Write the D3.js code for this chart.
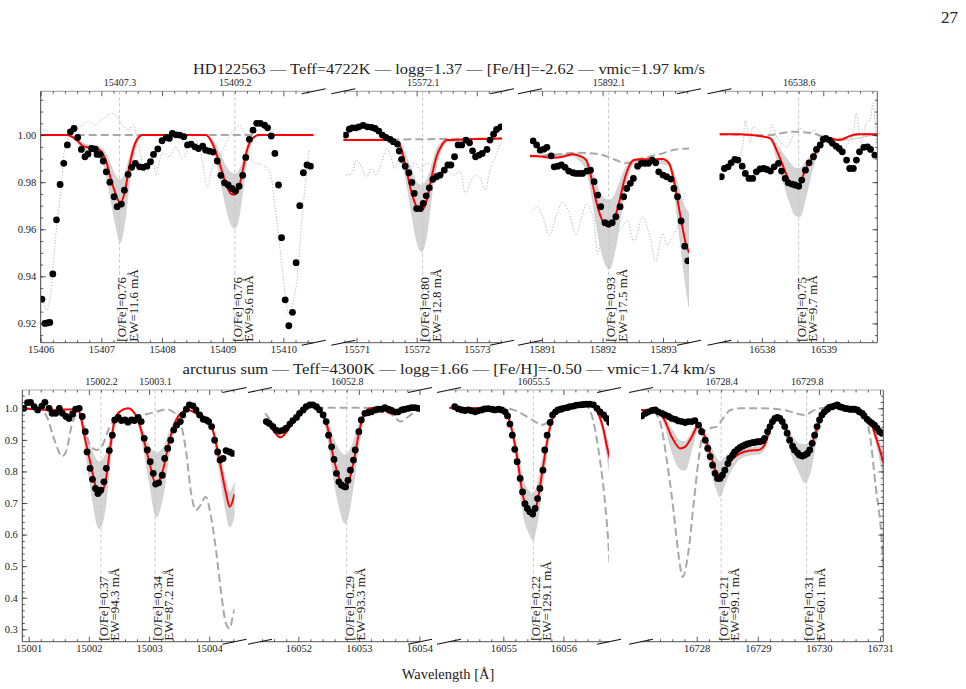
<!DOCTYPE html>
<html><head><meta charset="utf-8">
<script src="https://cdn.jsdelivr.net/npm/d3@7"></script>
<style>
body{margin:0;background:#fff}
svg{display:block}
text{font-family:"Liberation Serif","DejaVu Serif",serif;fill:#222}
</style>
</head><body>
<svg id="c" width="966" height="689"></svg>
<script>
// ===================== DATA =====================
// ---- Top panel: HD122563 ----
const T1_OBS=[[15406.02,0.9303],[15406.07,0.920],[15406.11,0.9202],[15406.15,0.9204],[15406.20,0.941],[15406.26,0.964],[15406.32,0.979],[15406.38,0.988],[15406.44,0.9958],[15406.49,1.0014],[15406.55,1.0028],[15406.61,0.999],[15406.67,0.9939],[15406.73,0.9908],[15406.78,0.992],[15406.84,0.9943],[15406.90,0.994],[15406.93,0.9918],[15406.98,0.9918],[15407.03,0.989],[15407.08,0.9844],[15407.14,0.980],[15407.21,0.9738],[15407.26,0.9696],[15407.33,0.9707],[15407.38,0.9766],[15407.44,0.9833],[15407.50,0.9863],[15407.56,0.988],[15407.63,0.9865],[15407.69,0.9863],[15407.75,0.9868],[15407.81,0.9887],[15407.86,0.9918],[15407.93,0.9941],[15408.0,0.9976],[15408.07,0.999],[15408.12,0.9986],[15408.17,1.0007],[15408.23,1.0001],[15408.29,1.0],[15408.36,0.9993],[15408.42,0.9958],[15408.48,0.9962],[15408.54,0.995],[15408.60,0.9943],[15408.67,0.9953],[15408.72,0.9936],[15408.78,0.9932],[15408.84,0.9928],[15408.91,0.989],[15408.97,0.9829],[15409.03,0.9797],[15409.09,0.9788],[15409.15,0.9773],[15409.21,0.9762],[15409.27,0.9783],[15409.33,0.9829],[15409.38,0.9905],[15409.44,0.9982],[15409.50,1.0021],[15409.56,1.005],[15409.62,1.005],[15409.69,1.0042],[15409.74,1.0031],[15409.80,0.9996],[15409.86,0.9922],[15409.92,0.9788],[15409.97,0.9564],[15410.03,0.930],[15410.09,0.919],[15410.15,0.9247],[15410.21,0.9458],[15410.27,0.970],[15410.33,0.984],[15410.39,0.9873],[15410.45,0.9868]];
const T1_RED=[[15406.00,1.0],[15406.43,1.0],[15406.59,0.998],[15406.70,0.9953],[15406.81,0.9946],[15406.92,0.9943],[15407.00,0.993],[15407.08,0.9887],[15407.16,0.981],[15407.25,0.974],[15407.31,0.971],[15407.38,0.9752],[15407.46,0.9865],[15407.52,0.9936],[15407.60,0.9986],[15407.68,1.0],[15408.72,1.0],[15408.83,0.9965],[15408.94,0.9887],[15409.05,0.9795],[15409.14,0.975],[15409.19,0.9748],[15409.24,0.9755],[15409.32,0.9837],[15409.40,0.9936],[15409.49,0.9986],[15409.60,1.0],[15410.5,1.0]];
const T1_BAND=[[15406.00,1.0,1.0],[15406.43,1.0,1.0],[15406.59,0.999,0.997],[15406.70,0.9965,0.994],[15406.81,0.9958,0.993],[15406.92,0.9955,0.9925],[15407.00,0.9945,0.990],[15407.08,0.992,0.983],[15407.16,0.987,0.972],[15407.25,0.982,0.960],[15407.31,0.981,0.9545],[15407.38,0.983,0.962],[15407.46,0.990,0.979],[15407.52,0.995,0.989],[15407.60,0.999,0.997],[15407.68,1.0,1.0],[15408.72,1.0,1.0],[15408.83,0.998,0.995],[15408.94,0.993,0.984],[15409.05,0.987,0.970],[15409.14,0.984,0.962],[15409.19,0.9835,0.9605],[15409.24,0.984,0.962],[15409.32,0.988,0.974],[15409.40,0.995,0.990],[15409.49,0.999,0.997],[15409.60,1.0,1.0],[15410.5,1.0,1.0]];
const T1_DASH=[[15406.0,1.0],[15410.5,1.0]];
const T1_DOT=[[15406.02,0.9313],[15406.10,0.9257],[15406.15,0.930],[15406.23,0.9526],[15406.34,0.978],[15406.43,0.9972],[15406.59,1.002],[15406.78,1.0057],[15406.89,1.0042],[15407.00,1.0064],[15407.19,1.0092],[15407.33,1.005],[15407.44,1.002],[15407.52,1.0042],[15407.60,0.9972],[15407.74,0.9837],[15407.85,0.9887],[15407.90,0.983],[15408.01,0.9922],[15408.12,0.9908],[15408.23,0.995],[15408.34,0.9901],[15408.50,0.9993],[15408.61,0.995],[15408.75,0.978],[15408.83,0.9865],[15408.94,0.9908],[15409.05,0.9965],[15409.16,1.0014],[15409.27,1.0042],[15409.38,0.9993],[15409.49,0.9887],[15409.65,0.9873],[15409.76,0.9851],[15409.87,0.968],[15409.98,0.944],[15410.09,0.9242],[15410.20,0.9342],[15410.31,0.9653],[15410.42,0.9936]];

const T2_OBS=[[15570.82,1.0],[15570.88,1.0025],[15570.93,1.0031],[15570.99,1.0031],[15571.04,1.0035],[15571.11,1.0041],[15571.18,1.0035],[15571.25,1.0033],[15571.31,1.0028],[15571.37,1.0017],[15571.43,1.0],[15571.49,0.999],[15571.56,0.9982],[15571.61,0.9972],[15571.68,0.9962],[15571.71,0.9932],[15571.75,0.9897],[15571.81,0.9868],[15571.87,0.984],[15571.92,0.9799],[15571.96,0.9752],[15572.0,0.9688],[15572.06,0.9688],[15572.11,0.971],[15572.16,0.9742],[15572.21,0.9776],[15572.27,0.9812],[15572.33,0.9823],[15572.39,0.983],[15572.46,0.9851],[15572.52,0.9873],[15572.57,0.9873],[15572.63,0.9908],[15572.69,0.9958],[15572.75,0.9958],[15572.82,0.9979],[15572.88,0.9967],[15572.93,0.9933],[15572.98,0.9908],[15573.04,0.9915],[15573.09,0.9922],[15573.17,0.9939],[15573.22,0.9979],[15573.28,1.0004],[15573.33,1.0024],[15573.40,1.0035]];
const T2_RED=[[15570.78,0.9979],[15571.50,0.9979],[15571.67,0.9972],[15571.75,0.9936],[15571.83,0.9851],[15571.92,0.9752],[15572.00,0.9696],[15572.08,0.9679],[15572.17,0.9724],[15572.25,0.9823],[15572.33,0.9908],[15572.42,0.9958],[15572.50,0.9979],[15573.42,0.9986]];
const T2_BAND=[[15570.78,0.9979,0.9979],[15571.50,0.9979,0.9979],[15571.67,0.998,0.996],[15571.75,0.996,0.990],[15571.83,0.991,0.980],[15571.92,0.985,0.966],[15572.00,0.980,0.955],[15572.08,0.9788,0.9504],[15572.17,0.981,0.958],[15572.25,0.987,0.974],[15572.33,0.994,0.987],[15572.42,0.997,0.994],[15572.50,0.998,0.997],[15573.42,0.9986,0.9986]];
const T2_DASH=[[15570.78,0.9979],[15573.42,0.9986]];
const T2_DOT=[[15570.82,0.983],[15570.92,0.9837],[15571.00,0.9894],[15571.08,0.9865],[15571.17,0.9823],[15571.25,0.9858],[15571.33,0.983],[15571.42,0.9887],[15571.50,0.9943],[15571.57,0.9908],[15571.64,0.9858],[15571.72,0.9908],[15571.81,0.9837],[15571.89,0.9851],[15571.97,0.9887],[15572.06,0.9851],[15572.17,0.988],[15572.28,0.9865],[15572.39,0.9809],[15572.50,0.9851],[15572.61,0.983],[15572.72,0.9844],[15572.81,0.9752],[15572.89,0.9795],[15572.97,0.983],[15573.06,0.9816],[15573.14,0.9766],[15573.22,0.9851],[15573.31,0.9908],[15573.39,0.9965]];

const T3_OBS=[[15890.85,0.9975],[15890.91,0.9958],[15890.97,0.9936],[15891.03,0.994],[15891.08,0.9948],[15891.15,0.9912],[15891.20,0.9865],[15891.26,0.9868],[15891.32,0.9873],[15891.38,0.9863],[15891.44,0.9847],[15891.51,0.984],[15891.56,0.9837],[15891.62,0.9837],[15891.67,0.9837],[15891.74,0.9847],[15891.80,0.9851],[15891.86,0.9802],[15891.92,0.9745],[15891.97,0.9696],[15892.04,0.9628],[15892.10,0.9622],[15892.16,0.9628],[15892.22,0.9653],[15892.29,0.9696],[15892.35,0.9738],[15892.40,0.9773],[15892.46,0.9795],[15892.51,0.9816],[15892.58,0.9868],[15892.64,0.988],[15892.70,0.988],[15892.76,0.988],[15892.82,0.9894],[15892.88,0.9882],[15892.93,0.9844],[15893.0,0.983],[15893.06,0.9823],[15893.13,0.9813],[15893.18,0.9773],[15893.24,0.9738],[15893.30,0.9635],[15893.36,0.9528],[15893.41,0.9466]];
const T3_RED=[[15890.80,0.9912],[15891.01,0.9908],[15891.18,0.9904],[15891.34,0.9908],[15891.51,0.9919],[15891.62,0.9912],[15891.73,0.9894],[15891.81,0.9823],[15891.89,0.9724],[15891.97,0.9653],[15892.05,0.9615],[15892.11,0.9611],[15892.19,0.9639],[15892.27,0.971],[15892.36,0.9809],[15892.44,0.9868],[15892.52,0.9894],[15892.63,0.9897],[15892.77,0.9897],[15892.99,0.9898],[15893.10,0.988],[15893.18,0.9809],[15893.26,0.9696],[15893.32,0.9611],[15893.37,0.9547],[15893.43,0.9500]];
const T3_BAND=[[15890.80,0.9912,0.9912],[15891.51,0.992,0.991],[15891.62,0.9915,0.989],[15891.73,0.990,0.985],[15891.81,0.986,0.976],[15891.89,0.980,0.963],[15891.97,0.975,0.952],[15892.05,0.9728,0.945],[15892.11,0.9724,0.943],[15892.19,0.974,0.949],[15892.27,0.979,0.960],[15892.36,0.985,0.975],[15892.44,0.988,0.984],[15892.52,0.9895,0.988],[15892.63,0.990,0.989],[15893.10,0.9885,0.987],[15893.18,0.984,0.977],[15893.26,0.978,0.960],[15893.32,0.972,0.947],[15893.37,0.969,0.937],[15893.43,0.967,0.927]];
const T3_DASH=[[15890.80,0.9908],[15891.29,0.9919],[15891.56,0.9925],[15891.84,0.9922],[15892.00,0.9915],[15892.22,0.9894],[15892.38,0.988],[15892.55,0.9894],[15892.77,0.9908],[15892.99,0.9922],[15893.21,0.9939],[15893.43,0.9943]];
const T3_DOT=[[15890.82,0.9674],[15890.93,0.9696],[15891.01,0.9653],[15891.12,0.9575],[15891.23,0.9653],[15891.34,0.9717],[15891.45,0.9667],[15891.56,0.9575],[15891.64,0.9639],[15891.74,0.971],[15891.84,0.9653],[15891.92,0.9497],[15892.00,0.9596],[15892.11,0.9653],[15892.22,0.9582],[15892.33,0.9611],[15892.41,0.9639],[15892.52,0.9547],[15892.66,0.9653],[15892.77,0.9582],[15892.88,0.9462],[15892.99,0.9582],[15893.07,0.9533],[15893.15,0.9568],[15893.24,0.9611],[15893.32,0.971],[15893.37,0.9752]];

const T4_OBS=[[16537.34,0.9823],[16537.39,0.9858],[16537.45,0.9865],[16537.50,0.9882],[16537.56,0.9897],[16537.61,0.9894],[16537.68,0.9868],[16537.73,0.9837],[16537.79,0.9816],[16537.85,0.9816],[16537.91,0.9844],[16537.97,0.9856],[16538.03,0.9858],[16538.08,0.9854],[16538.14,0.9847],[16538.20,0.9865],[16538.27,0.988],[16538.32,0.9847],[16538.38,0.9816],[16538.43,0.9797],[16538.49,0.9792],[16538.54,0.9788],[16538.60,0.9783],[16538.65,0.9809],[16538.71,0.9851],[16538.77,0.9882],[16538.84,0.9908],[16538.89,0.9939],[16538.95,0.9958],[16539.0,0.9982],[16539.04,0.9986],[16539.10,0.9979],[16539.15,0.9965],[16539.21,0.9953],[16539.26,0.9943],[16539.31,0.9929],[16539.38,0.9894],[16539.43,0.9858],[16539.49,0.9858],[16539.54,0.9894],[16539.59,0.9929],[16539.66,0.9948],[16539.72,0.995],[16539.77,0.9939],[16539.84,0.9915]];
const T4_RED=[[16537.31,1.0004],[16537.65,1.0004],[16537.97,0.9996],[16538.14,0.9986],[16538.24,0.9936],[16538.35,0.9865],[16538.46,0.9798],[16538.54,0.9783],[16538.62,0.9792],[16538.70,0.9851],[16538.84,0.9908],[16538.95,0.9958],[16539.08,0.9986],[16539.27,0.9979],[16539.38,0.999],[16539.54,1.0004],[16539.88,1.0004]];
const T4_BAND=[[16537.31,1.0004,1.0004],[16537.97,0.9996,0.9996],[16538.14,0.9986,0.998],[16538.24,0.996,0.990],[16538.35,0.992,0.980],[16538.46,0.988,0.971],[16538.54,0.986,0.966],[16538.62,0.9858,0.9653],[16538.70,0.988,0.972],[16538.84,0.993,0.987],[16538.95,0.997,0.994],[16539.08,0.9988,0.998],[16539.27,0.9979,0.9979],[16539.88,1.0004,1.0004]];
const T4_DASH=[[16537.31,1.0004],[16538.08,0.9999],[16538.51,1.0014],[16538.78,1.001],[16539.05,0.999],[16539.27,0.9984],[16539.54,1.0001],[16539.88,1.0004]];
const T4_DOT=[[16537.32,0.9837],[16537.41,0.9851],[16537.49,0.9894],[16537.57,0.988],[16537.68,0.9943],[16537.73,1.0064],[16537.81,0.9965],[16537.86,1.0035],[16537.95,1.0014],[16538.00,1.0],[16538.11,0.9993],[16538.16,1.0042],[16538.27,0.9979],[16538.41,0.995],[16538.51,1.0],[16538.62,1.0028],[16538.76,1.0007],[16538.86,1.0021],[16538.97,0.9979],[16539.14,0.9965],[16539.27,0.9922],[16539.41,0.9965],[16539.49,1.0014],[16539.54,1.0092],[16539.62,0.9965],[16539.70,1.005],[16539.76,1.0064],[16539.81,1.0135],[16539.86,0.9965]];

// ---- Bottom panel: arcturus sum ----
const B1_OBS=[[15000.92,1.0],[15000.98,1.018],[15001.03,1.019],[15001.09,1.005],[15001.15,0.995],[15001.22,1.007],[15001.27,1.019],[15001.34,1.0],[15001.39,0.984],[15001.45,0.984],[15001.51,1.0],[15001.56,0.984],[15001.62,0.974],[15001.67,0.968],[15001.73,0.982],[15001.78,0.997],[15001.84,1.0],[15001.89,0.974],[15001.94,0.926],[15001.97,0.862],[15002.02,0.810],[15002.06,0.775],[15002.11,0.746],[15002.15,0.730],[15002.20,0.741],[15002.25,0.767],[15002.29,0.810],[15002.34,0.866],[15002.39,0.915],[15002.43,0.963],[15002.49,0.971],[15002.54,0.961],[15002.60,0.963],[15002.65,0.956],[15002.71,0.963],[15002.76,0.961],[15002.82,0.971],[15002.87,0.958],[15002.92,0.905],[15002.97,0.868],[15003.02,0.831],[15003.07,0.794],[15003.11,0.760],[15003.16,0.764],[15003.22,0.788],[15003.26,0.841],[15003.31,0.873],[15003.36,0.899],[15003.41,0.931],[15003.46,0.947],[15003.52,0.958],[15003.56,0.979],[15003.62,0.997],[15003.67,1.011],[15003.73,1.008],[15003.78,0.995],[15003.84,0.979],[15003.90,0.965],[15003.95,0.963],[15003.99,0.958],[15004.04,0.942],[15004.09,0.899],[15004.14,0.862],[15004.18,0.836],[15004.23,0.841],[15004.28,0.866],[15004.34,0.862],[15004.39,0.857]];
const B1_RED=[[15000.89,1.0],[15001.35,0.995],[15001.80,0.997],[15001.85,0.984],[15001.93,0.910],[15002.04,0.815],[15002.17,0.725],[15002.27,0.762],[15002.35,0.868],[15002.43,0.963],[15002.51,0.989],[15002.65,1.0],[15002.79,0.974],[15002.90,0.910],[15003.01,0.825],[15003.12,0.757],[15003.23,0.804],[15003.34,0.899],[15003.45,0.963],[15003.56,0.989],[15003.65,0.995],[15003.78,0.984],[15003.95,0.968],[15004.06,0.931],[15004.17,0.836],[15004.28,0.730],[15004.34,0.688],[15004.42,0.728]];
const B1_BAND=[[15000.89,1.0,1.0],[15001.35,0.995,0.995],[15001.80,0.998,0.995],[15001.85,0.988,0.978],[15001.93,0.935,0.885],[15002.04,0.870,0.735],[15002.17,0.831,0.619],[15002.27,0.850,0.680],[15002.35,0.905,0.820],[15002.43,0.970,0.950],[15002.51,0.990,0.985],[15002.65,1.0,0.998],[15002.79,0.978,0.968],[15002.90,0.930,0.880],[15003.01,0.880,0.760],[15003.12,0.859,0.656],[15003.23,0.875,0.720],[15003.34,0.925,0.860],[15003.45,0.970,0.950],[15003.56,0.990,0.985],[15003.65,0.995,0.993],[15003.78,0.986,0.982],[15003.95,0.970,0.965],[15004.06,0.940,0.920],[15004.17,0.860,0.800],[15004.28,0.770,0.670],[15004.34,0.735,0.624],[15004.42,0.765,0.660]];
const B1_DASH=[[15000.89,1.0],[15001.19,0.995],[15001.30,0.974],[15001.41,0.910],[15001.49,0.868],[15001.55,0.847],[15001.63,0.868],[15001.71,0.942],[15001.82,0.984],[15001.91,0.952],[15002.02,0.884],[15002.13,0.868],[15002.21,0.878],[15002.35,0.942],[15002.51,0.968],[15002.73,0.971],[15002.90,0.979],[15003.12,0.989],[15003.29,0.997],[15003.43,0.984],[15003.54,0.942],[15003.62,0.857],[15003.70,0.730],[15003.78,0.677],[15003.87,0.698],[15003.94,0.720],[15004.03,0.656],[15004.12,0.540],[15004.20,0.413],[15004.28,0.317],[15004.34,0.302],[15004.39,0.339],[15004.42,0.365]];

const B2_OBS=[[16051.47,0.958],[16051.52,0.952],[16051.58,0.942],[16051.63,0.931],[16051.69,0.928],[16051.75,0.931],[16051.80,0.937],[16051.86,0.950],[16051.91,0.961],[16051.97,0.971],[16052.02,0.984],[16052.08,0.995],[16052.13,1.005],[16052.19,1.011],[16052.24,1.011],[16052.30,1.005],[16052.35,0.995],[16052.41,0.979],[16052.46,0.958],[16052.50,0.915],[16052.55,0.878],[16052.59,0.838],[16052.63,0.794],[16052.67,0.767],[16052.71,0.757],[16052.75,0.753],[16052.78,0.751],[16052.82,0.772],[16052.86,0.804],[16052.91,0.836],[16052.94,0.868],[16053.0,0.926],[16053.04,0.963],[16053.10,0.984],[16053.15,0.986],[16053.21,0.989],[16053.27,0.995],[16053.32,0.997],[16053.38,0.997],[16053.43,1.002],[16053.49,0.997],[16053.54,0.993],[16053.60,0.988],[16053.65,0.989],[16053.71,0.995],[16053.76,0.997],[16053.82,1.0],[16053.87,1.002],[16053.93,1.002],[16053.98,1.0],[16054.04,0.997]];
const B2_RED=[[16051.47,0.958],[16051.56,0.937],[16051.70,0.908],[16051.81,0.926],[16051.92,0.963],[16052.03,0.989],[16052.17,1.005],[16052.28,1.002],[16052.39,0.984],[16052.48,0.942],[16052.59,0.836],[16052.70,0.767],[16052.77,0.749],[16052.83,0.767],[16052.92,0.836],[16053.00,0.921],[16053.08,0.979],[16053.19,1.0],[16053.30,1.0],[16053.41,0.995],[16053.52,0.984],[16053.64,0.982],[16053.75,0.995],[16053.86,1.002],[16054.02,1.0]];
const B2_BAND=[[16051.47,0.958,0.958],[16051.56,0.940,0.935],[16051.70,0.912,0.905],[16051.81,0.930,0.924],[16051.92,0.965,0.962],[16052.03,0.990,0.988],[16052.17,1.005,1.004],[16052.28,1.003,1.0],[16052.39,0.990,0.975],[16052.48,0.962,0.915],[16052.59,0.900,0.770],[16052.70,0.862,0.670],[16052.77,0.852,0.635],[16052.83,0.860,0.665],[16052.92,0.900,0.770],[16053.00,0.950,0.880],[16053.08,0.985,0.965],[16053.19,1.0,0.997],[16053.30,1.0,1.0],[16053.41,0.996,0.993],[16053.52,0.986,0.982],[16053.64,0.984,0.980],[16053.75,0.996,0.994],[16053.86,1.002,1.001],[16054.02,1.0,1.0]];
const B2_DASH=[[16051.45,0.984],[16051.56,0.958],[16051.70,0.921],[16051.81,0.931],[16051.92,0.963],[16052.03,0.989],[16052.17,1.002],[16052.36,1.002],[16053.08,1.002],[16053.41,0.997],[16053.58,0.974],[16053.69,0.958],[16053.80,0.971],[16053.97,0.995],[16054.05,1.0]];

const B3_OBS=[[16054.19,1.005],[16054.25,0.998],[16054.31,0.995],[16054.36,0.993],[16054.42,0.995],[16054.47,0.992],[16054.53,0.989],[16054.58,0.992],[16054.64,0.995],[16054.69,0.998],[16054.75,0.999],[16054.81,0.997],[16054.86,0.995],[16054.92,0.997],[16054.97,0.995],[16055.03,0.989],[16055.07,0.976],[16055.11,0.950],[16055.15,0.915],[16055.19,0.870],[16055.23,0.831],[16055.28,0.778],[16055.32,0.735],[16055.36,0.698],[16055.40,0.683],[16055.44,0.672],[16055.49,0.665],[16055.53,0.683],[16055.57,0.714],[16055.61,0.746],[16055.66,0.804],[16055.69,0.868],[16055.73,0.915],[16055.78,0.955],[16055.82,0.979],[16055.87,0.989],[16055.91,0.995],[16055.96,0.997],[16056.0,1.0],[16056.06,1.002],[16056.11,1.005],[16056.17,1.007],[16056.22,1.010],[16056.28,1.011],[16056.33,1.012],[16056.39,1.013],[16056.44,1.013],[16056.50,1.011],[16056.56,1.0],[16056.61,0.989],[16056.67,0.979],[16056.72,0.968],[16056.77,0.955]];
const B3_RED=[[16054.10,1.002],[16054.19,1.002],[16055.00,0.997],[16055.08,0.974],[16055.22,0.857],[16055.33,0.720],[16055.44,0.672],[16055.49,0.664],[16055.56,0.698],[16055.67,0.825],[16055.78,0.942],[16055.86,0.984],[16055.94,0.997],[16056.39,1.010],[16056.50,1.005],[16056.58,0.984],[16056.67,0.931],[16056.72,0.884],[16056.78,0.836]];
const B3_BAND=[[16054.10,1.002,1.002],[16055.00,0.997,0.996],[16055.08,0.978,0.968],[16055.22,0.885,0.830],[16055.33,0.775,0.665],[16055.44,0.735,0.600],[16055.49,0.730,0.582],[16055.56,0.755,0.630],[16055.67,0.860,0.780],[16055.78,0.955,0.925],[16055.86,0.988,0.980],[16055.94,0.998,0.996],[16056.39,1.010,1.010],[16056.50,1.006,1.004],[16056.58,0.988,0.978],[16056.67,0.945,0.910],[16056.72,0.905,0.855],[16056.78,0.870,0.780]];
const B3_DASH=[[16054.10,1.0],[16055.00,1.0],[16055.17,0.995],[16055.39,0.974],[16055.53,0.958],[16055.64,0.947],[16055.75,0.958],[16055.83,0.984],[16055.94,0.997],[16056.39,1.005],[16056.44,0.995],[16056.50,0.958],[16056.61,0.836],[16056.69,0.709],[16056.75,0.571],[16056.78,0.476]];

const B4_OBS=[[16727.10,0.976],[16727.16,0.984],[16727.21,0.989],[16727.27,0.993],[16727.32,0.995],[16727.37,0.989],[16727.43,0.984],[16727.48,0.979],[16727.54,0.974],[16727.59,0.968],[16727.65,0.965],[16727.70,0.960],[16727.76,0.958],[16727.81,0.955],[16727.86,0.958],[16727.92,0.958],[16727.97,0.961],[16728.03,0.947],[16728.08,0.926],[16728.14,0.899],[16728.18,0.873],[16728.22,0.847],[16728.26,0.820],[16728.30,0.794],[16728.34,0.778],[16728.38,0.778],[16728.42,0.788],[16728.46,0.804],[16728.51,0.825],[16728.54,0.841],[16728.59,0.852],[16728.62,0.862],[16728.67,0.870],[16728.71,0.876],[16728.75,0.880],[16728.79,0.884],[16728.83,0.887],[16728.87,0.889],[16728.91,0.891],[16728.95,0.892],[16728.99,0.894],[16729.03,0.894],[16729.08,0.897],[16729.11,0.905],[16729.16,0.926],[16729.20,0.942],[16729.24,0.958],[16729.28,0.968],[16729.32,0.971],[16729.36,0.968],[16729.40,0.958],[16729.44,0.942],[16729.48,0.921],[16729.52,0.899],[16729.57,0.880],[16729.60,0.868],[16729.65,0.859],[16729.68,0.852],[16729.73,0.849],[16729.77,0.852],[16729.81,0.857],[16729.85,0.868],[16729.89,0.889],[16729.93,0.915],[16729.97,0.942],[16730.01,0.963],[16730.05,0.979],[16730.09,0.989],[16730.14,0.997],[16730.17,1.003],[16730.22,1.005],[16730.26,1.008],[16730.30,1.011],[16730.34,1.005],[16730.38,1.003],[16730.42,1.0],[16730.46,0.999],[16730.50,0.997],[16730.54,0.997],[16730.58,0.997],[16730.63,0.995],[16730.66,0.989],[16730.71,0.984],[16730.74,0.976],[16730.79,0.965],[16730.83,0.958],[16730.87,0.952],[16730.91,0.947],[16730.95,0.937],[16730.99,0.926],[16731.03,0.921]];
const B4_RED=[[16727.09,0.995],[16727.29,0.995],[16727.46,0.968],[16727.59,0.910],[16727.73,0.873],[16727.81,0.878],[16727.92,0.910],[16728.03,0.947],[16728.11,0.921],[16728.22,0.857],[16728.33,0.794],[16728.38,0.783],[16728.46,0.804],[16728.57,0.836],[16728.71,0.857],[16728.87,0.866],[16729.01,0.868],[16729.11,0.884],[16729.22,0.947],[16729.32,0.971],[16729.41,0.958],[16729.55,0.894],[16729.68,0.857],[16729.77,0.852],[16729.85,0.868],[16729.96,0.931],[16730.12,0.995],[16730.28,1.005],[16730.50,0.995],[16730.66,0.984],[16730.83,0.963],[16730.93,0.910],[16731.06,0.826]];
const B4_BAND=[[16727.09,0.995,0.995],[16727.29,0.995,0.994],[16727.46,0.975,0.955],[16727.59,0.935,0.865],[16727.73,0.897,0.808],[16727.81,0.894,0.804],[16727.92,0.925,0.870],[16728.03,0.955,0.935],[16728.11,0.935,0.900],[16728.22,0.885,0.815],[16728.33,0.840,0.740],[16728.38,0.830,0.720],[16728.46,0.845,0.760],[16728.57,0.862,0.805],[16728.71,0.872,0.840],[16728.87,0.877,0.852],[16729.01,0.878,0.855],[16729.11,0.893,0.870],[16729.22,0.952,0.935],[16729.32,0.975,0.962],[16729.41,0.965,0.945],[16729.55,0.915,0.855],[16729.68,0.888,0.795],[16729.77,0.885,0.765],[16729.85,0.895,0.790],[16729.96,0.945,0.900],[16730.12,0.997,0.992],[16730.28,1.006,1.004],[16730.50,0.996,0.994],[16730.66,0.986,0.982],[16730.83,0.967,0.955],[16730.93,0.925,0.895],[16731.06,0.855,0.780]];
const B4_DASH=[[16727.09,0.995],[16727.29,0.989],[16727.40,0.958],[16727.51,0.836],[16727.62,0.677],[16727.70,0.540],[16727.77,0.466],[16727.86,0.540],[16727.95,0.698],[16728.03,0.836],[16728.11,0.926],[16728.22,0.937],[16728.33,0.942],[16728.43,0.968],[16728.54,0.993],[16728.71,1.0],[16729.03,1.0],[16729.41,0.995],[16729.63,0.984],[16729.76,0.979],[16729.96,0.997],[16730.17,1.003],[16730.61,1.0],[16730.72,0.984],[16730.83,0.921],[16730.93,0.751],[16731.02,0.603],[16731.06,0.480]];

// ---- tick values / labels ----
const TOP_Y_TICKS=[0.92,0.94,0.96,0.98,1.00];
const BOT_Y_TICKS=[0.3,0.4,0.5,0.6,0.7,0.8,0.9,1.0];
const T_XTICKS=[[15406,15407,15408,15409,15410],[15571,15572,15573],[15891,15892,15893],[16538,16539]];
const B_XTICKS=[[15001,15002,15003,15004],[16052,16053,16054],[16055,16056],[16728,16729,16730,16731]];
const T_LINES=[[15407.3,15409.2],[15572.1],[15892.1],[16538.6]];
const B_LINES=[[15002.2,15003.1],[16052.8],[16055.5],[16728.4,16729.8]];
const T_OFE=[["0.76","0.76"],["0.80"],["0.93"],["0.75"]];
const T_EW=[["11.6","9.6"],["12.8"],["17.5"],["9.7"]];
const B_OFE=[["0.37","0.34"],["0.29"],["0.22"],["0.21","0.31"]];
const B_EW=[["94.3","87.2"],["93.3"],["129.1"],["99.1","60.1"]];
const TOP_TITLE="HD122563 — Teff=4722K — logg=1.37 — [Fe/H]=-2.62 — vmic=1.97 km/s";
const BOT_TITLE="arcturus sum — Teff=4300K — logg=1.66 — [Fe/H]=-0.50 — vmic=1.74 km/s";

// ===================== LAYOUT =====================
const panels=[
 {title:TOP_TITLE,titleY:74,titleLen:512,yDomain:[0.9118,1.0186],yRange:[342.7,91.3],yTicks:TOP_Y_TICKS,yMinor:0.005,yFmt:d3.format(".2f"),
  segs:[
   {dom:[15406.0,15410.5],px:[40.7,313.7],ticks:T_XTICKS[0],lines:T_LINES[0],ofe:T_OFE[0],ew:T_EW[0],obs:T1_OBS,red:T1_RED,band:T1_BAND,dash:T1_DASH,dot:T1_DOT},
   {dom:[15570.78,15573.42],px:[343.3,502],ticks:T_XTICKS[1],lines:T_LINES[1],ofe:T_OFE[1],ew:T_EW[1],obs:T2_OBS,red:T2_RED,band:T2_BAND,dash:T2_DASH,dot:T2_DOT},
   {dom:[15890.80,15893.43],px:[530,689],ticks:T_XTICKS[2],lines:T_LINES[2],ofe:T_OFE[2],ew:T_EW[2],obs:T3_OBS,red:T3_RED,band:T3_BAND,dash:T3_DASH,dot:T3_DOT},
   {dom:[16537.31,16539.88],px:[719.5,877.3],ticks:T_XTICKS[3],lines:T_LINES[3],ofe:T_OFE[3],ew:T_EW[3],obs:T4_OBS,red:T4_RED,band:T4_BAND,dash:T4_DASH,dot:T4_DOT}
  ]},
 {title:BOT_TITLE,titleY:374,titleLen:533,yDomain:[0.2607,1.058],yRange:[641.7,390],yTicks:BOT_Y_TICKS,yMinor:0.02,yFmt:d3.format(".1f"),
  segs:[
   {dom:[15000.894,15004.42],px:[22.3,234.5],ticks:B_XTICKS[0],lines:B_LINES[0],ofe:B_OFE[0],ew:B_EW[0],obs:B1_OBS,red:B1_RED,band:B1_BAND,dash:B1_DASH},
   {dom:[16051.367,16054.01],px:[260,420],ticks:B_XTICKS[1],lines:B_LINES[1],ofe:B_OFE[1],ew:B_EW[1],obs:B2_OBS,red:B2_RED,band:B2_BAND,dash:B2_DASH},
   {dom:[16054.095,16056.76],px:[449,609],ticks:B_XTICKS[2],lines:B_LINES[2],ofe:B_OFE[2],ew:B_EW[2],obs:B3_OBS,red:B3_RED,band:B3_BAND,dash:B3_DASH},
   {dom:[16727.088,16731.054],px:[641,883.3],ticks:B_XTICKS[3],lines:B_LINES[3],ofe:B_OFE[3],ew:B_EW[3],obs:B4_OBS,red:B4_RED,band:B4_BAND,dash:B4_DASH}
  ]}
];

// ===================== DRAW =====================
const svg=d3.select('#c');
const defs=svg.append('defs');
const SERIF='"Liberation Serif","DejaVu Serif",serif';
let clipN=0;

function styleAxis(g,size){
  g.attr('font-family',SERIF).attr('font-size',size);
  g.selectAll('.domain').remove();
  g.selectAll('line').attr('stroke','#333').attr('stroke-width',0.8);
  g.selectAll('text').attr('fill','#222');
}

panels.forEach(p=>{
  const y=d3.scaleLinear().domain(p.yDomain).range(p.yRange);
  const yb=p.yRange[0], yt=p.yRange[1];
  const nS=p.segs.length;
  const minorY=d3.range(Math.ceil(p.yDomain[0]/p.yMinor)*p.yMinor,p.yDomain[1],p.yMinor);

  p.segs.forEach((s,i)=>{
    const x=d3.scaleLinear().domain(s.dom).range(s.px);
    const id='clip'+(clipN++);
    defs.append('clipPath').attr('id',id).append('rect')
      .attr('x',s.px[0]).attr('y',yt).attr('width',s.px[1]-s.px[0]).attr('height',yb-yt);
    const g=svg.append('g').attr('clip-path',`url(#${id})`);
    const line=d3.line().x(d=>x(d[0])).y(d=>y(d[1])).curve(d3.curveMonotoneX);

    if(s.dot){
      g.append('path').datum(s.dot).attr('d',d3.line().x(d=>x(d[0])).y(d=>y(d[1])).curve(d3.curveCatmullRom)(s.dot))
        .attr('fill','none').attr('stroke','#b5b5b5').attr('stroke-width',1).attr('stroke-dasharray','1.2,1.8');
    }
    g.append('path').datum(s.band)
      .attr('d',d3.area().x(d=>x(d[0])).y0(d=>y(d[2])).y1(d=>y(d[1])).curve(d3.curveMonotoneX))
      .attr('fill','#d4d4d4').attr('stroke','#c8c8c8').attr('stroke-width',0.6);
    s.lines.forEach(l=>{
      g.append('line').attr('x1',x(l)).attr('x2',x(l)).attr('y1',yt).attr('y2',yb)
        .attr('stroke','#c4c4c4').attr('stroke-width',0.9).attr('stroke-dasharray','3.5,2.5');
    });
    g.append('path').datum(s.dash).attr('d',line)
      .attr('fill','none').attr('stroke','#a8a8a8').attr('stroke-width',2).attr('stroke-dasharray','8,4');
    g.append('path').datum(s.red).attr('d',line)
      .attr('fill','none').attr('stroke','#f00').attr('stroke-width',2);
    g.selectAll('circle.o').data(s.obs).enter().append('circle')
      .attr('cx',d=>x(d[0])).attr('cy',d=>y(d[1])).attr('r',3.4).attr('fill','#000');

    // annotations
    s.lines.forEach((l,k)=>{
      svg.append('text').attr('transform',`translate(${x(l)+6.8},${yb-1}) rotate(-90)`)
        .attr('font-size',13).attr('fill','#222').text(`[O/Fe]=${s.ofe[k]}`);
      svg.append('text').attr('transform',`translate(${x(l)+18},${yb-1}) rotate(-90)`)
        .attr('font-size',13).attr('fill','#222').text(`EW=${s.ew[k]} mÅ`);
    });

    // spines
    svg.append('line').attr('x1',s.px[0]).attr('x2',s.px[1]).attr('y1',yt).attr('y2',yt)
      .attr('stroke','#b0b0b0').attr('stroke-width',1.2);
    svg.append('line').attr('x1',s.px[0]).attr('x2',s.px[1]).attr('y1',yb).attr('y2',yb)
      .attr('stroke','#555').attr('stroke-width',1);
    if(i===0) svg.append('line').attr('x1',s.px[0]).attr('x2',s.px[0]).attr('y1',yt).attr('y2',yb).attr('stroke','#444').attr('stroke-width',1);
    if(i===nS-1) svg.append('line').attr('x1',s.px[1]).attr('x2',s.px[1]).attr('y1',yt).attr('y2',yb).attr('stroke','#555').attr('stroke-width',1);

    // x axes
    const minorX=d3.range(Math.ceil(s.dom[0]*5)/5,s.dom[1],0.2).filter(v=>Math.abs(v-Math.round(v))>1e-6);
    styleAxis(svg.append('g').attr('transform',`translate(0,${yb})`)
      .call(d3.axisBottom(x).tickValues(s.ticks).tickFormat(d3.format('d')).tickSizeInner(-5).tickSizeOuter(0).tickPadding(2.5)),10.5);
    styleAxis(svg.append('g').attr('transform',`translate(0,${yb})`)
      .call(d3.axisBottom(x).tickValues(minorX).tickFormat('').tickSizeInner(-2.5).tickSizeOuter(0)),10);
    styleAxis(svg.append('g').attr('transform',`translate(0,${yt})`)
      .call(d3.axisTop(x).tickValues(s.ticks).tickFormat('').tickSizeInner(-5).tickSizeOuter(0)),10);
    styleAxis(svg.append('g').attr('transform',`translate(0,${yt})`)
      .call(d3.axisTop(x).tickValues(minorX).tickFormat('').tickSizeInner(-2.5).tickSizeOuter(0)),10);
    // secondary labels (line centres)
    styleAxis(svg.append('g').attr('transform',`translate(0,${yt})`)
      .call(d3.axisTop(x).tickValues(s.lines).tickFormat(d3.format('.1f')).tickSizeInner(0).tickSizeOuter(0).tickPadding(5)),10);

    // y axes
    if(i===0){
      styleAxis(svg.append('g').attr('transform',`translate(${s.px[0]},0)`)
        .call(d3.axisLeft(y).tickValues(p.yTicks).tickFormat(p.yFmt).tickSizeInner(-5).tickSizeOuter(0).tickPadding(4.5)),10.5);
      styleAxis(svg.append('g').attr('transform',`translate(${s.px[0]},0)`)
        .call(d3.axisLeft(y).tickValues(minorY).tickFormat('').tickSizeInner(-2.5).tickSizeOuter(0)),10);
    }
    if(i===nS-1){
      styleAxis(svg.append('g').attr('transform',`translate(${s.px[1]},0)`)
        .call(d3.axisRight(y).tickValues(p.yTicks).tickFormat('').tickSizeInner(-5).tickSizeOuter(0)),10);
      styleAxis(svg.append('g').attr('transform',`translate(${s.px[1]},0)`)
        .call(d3.axisRight(y).tickValues(minorY).tickFormat('').tickSizeInner(-2.5).tickSizeOuter(0)),10);
    }

    // break marks
    const brk=(bx,by)=>svg.append('line').attr('x1',bx-12).attr('y1',by+2.5).attr('x2',bx+12).attr('y2',by-2.5)
        .attr('stroke','#111').attr('stroke-width',1.1);
    if(i>0){brk(s.px[0],yt);brk(s.px[0],yb);}
    if(i<nS-1){brk(s.px[1],yt);brk(s.px[1],yb);}
  });

  svg.append('text').attr('x',449).attr('y',p.titleY).attr('text-anchor','middle')
    .attr('font-size',15.5).attr('textLength',p.titleLen).attr('lengthAdjust','spacingAndGlyphs').text(p.title);
});

svg.append('text').attr('x',448).attr('y',679).attr('text-anchor','middle').attr('font-size',14.5).text('Wavelength [Å]');
svg.append('text').attr('x',958).attr('y',23).attr('text-anchor','end').attr('font-size',17).text('27');
</script>
</body></html>
